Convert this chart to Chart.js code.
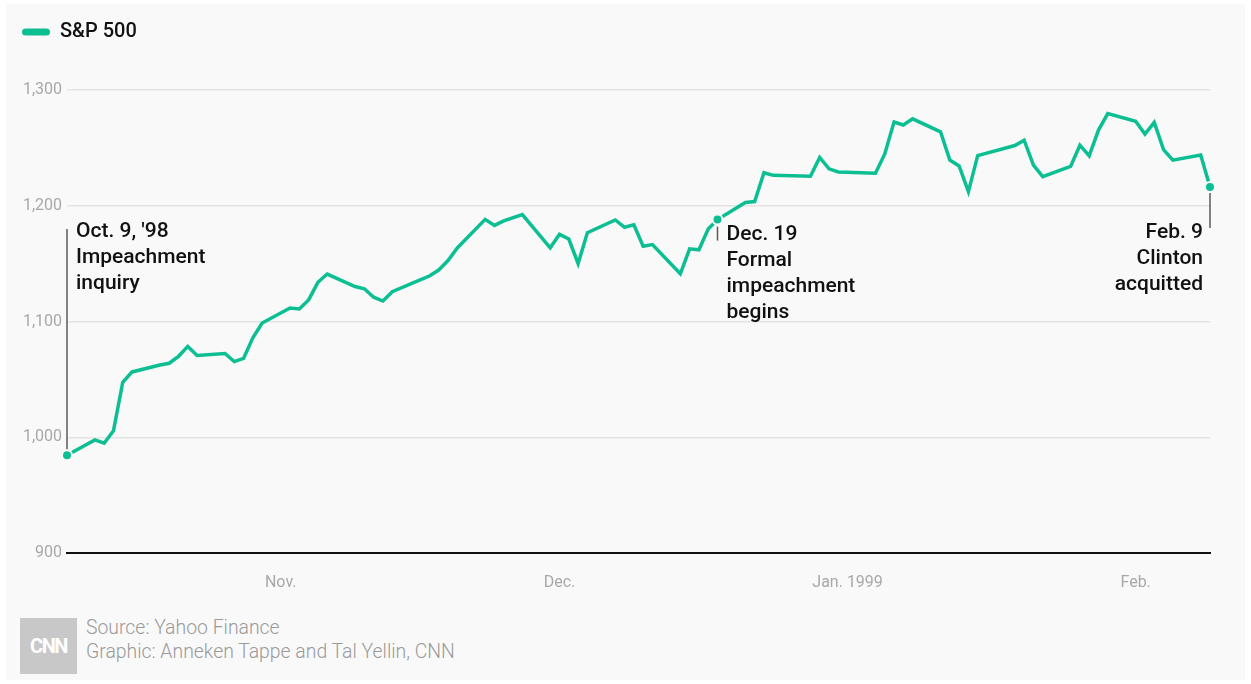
<!DOCTYPE html>
<html>
<head>
<meta charset="utf-8">
<script src="https://cdn.jsdelivr.net/npm/chart.js@4.4.1/dist/chart.umd.min.js"></script>
<style>
  body { margin: 0; background: #fff; font-family: Roboto, sans-serif; }
  #panel { position: absolute; left: 6px; top: 4px; width: 1239px; height: 676px; background: #f9f9f9; }
  #wrap { position: absolute; left: 0; top: 0; width: 1251px; height: 600px; }
  #logo { position: absolute; left: 20px; top: 618px; width: 57px; height: 56px; background: #c8c8c8;
          color: #fff; font: 700 20px Roboto, sans-serif; letter-spacing: -1.5px; text-align: center; line-height: 56px; }
  #source { position: absolute; left: 86px; top: 616px; color: #9a9a9a; font: 300 19.4px Roboto, sans-serif; line-height: 24px; }
</style>
</head>
<body>
<div id="panel"></div>
<div id="wrap"><canvas id="myChart" width="1251" height="600"></canvas></div>
<div id="logo">CNN</div>
<div id="source">Source: Yahoo Finance<br>Graphic: Anneken Tappe and Tal Yellin, CNN</div>
<script>
// S&P 500 daily closes, Oct 9 1998 - Feb 9 1999
var dates = [
  "1998-10-09","1998-10-12","1998-10-13","1998-10-14","1998-10-15","1998-10-16","1998-10-19","1998-10-20",
  "1998-10-21","1998-10-22","1998-10-23","1998-10-26","1998-10-27","1998-10-28","1998-10-29","1998-10-30",
  "1998-11-02","1998-11-03","1998-11-04","1998-11-05","1998-11-06","1998-11-09","1998-11-10","1998-11-11",
  "1998-11-12","1998-11-13","1998-11-16","1998-11-17","1998-11-18","1998-11-19","1998-11-20","1998-11-23",
  "1998-11-24","1998-11-25","1998-11-27","1998-11-30","1998-12-01","1998-12-02","1998-12-03","1998-12-04",
  "1998-12-07","1998-12-08","1998-12-09","1998-12-10","1998-12-11","1998-12-14","1998-12-15","1998-12-16",
  "1998-12-17","1998-12-18","1998-12-21","1998-12-22","1998-12-23","1998-12-24","1998-12-28","1998-12-29",
  "1998-12-30","1998-12-31","1999-01-04","1999-01-05","1999-01-06","1999-01-07","1999-01-08","1999-01-11",
  "1999-01-12","1999-01-13","1999-01-14","1999-01-15","1999-01-19","1999-01-20","1999-01-21","1999-01-22",
  "1999-01-25","1999-01-26","1999-01-27","1999-01-28","1999-01-29","1999-02-01","1999-02-02","1999-02-03",
  "1999-02-04","1999-02-05","1999-02-08","1999-02-09"
];
var closes = [
  984.39, 997.71, 994.80, 1005.53, 1047.49, 1056.42, 1062.39, 1063.93,
  1069.92, 1078.48, 1070.67, 1072.32, 1065.34, 1068.09, 1085.93, 1098.67,
  1111.60, 1110.84, 1118.67, 1133.85, 1141.01, 1130.20, 1128.26, 1120.97,
  1117.69, 1125.72, 1135.87, 1139.32, 1144.48, 1152.61, 1163.55, 1188.21,
  1182.99, 1186.87, 1192.33, 1163.63, 1175.28, 1171.25, 1150.14, 1176.74,
  1187.70, 1181.38, 1183.49, 1165.02, 1166.46, 1141.20, 1162.83, 1161.94,
  1179.98, 1188.03, 1202.84, 1203.57, 1228.54, 1226.27, 1225.49, 1241.81,
  1231.93, 1229.23, 1228.10, 1244.78, 1272.34, 1269.73, 1275.09, 1263.88,
  1239.51, 1234.40, 1212.19, 1243.26, 1252.00, 1256.62, 1235.16, 1225.19,
  1233.98, 1252.31, 1243.17, 1265.37, 1279.64, 1273.00, 1261.99, 1272.07,
  1248.49, 1239.40, 1243.77, 1216.14
];
var seriesName = "S&P 500";

var monthTicks = ["1998-11-01", "1998-12-01", "1999-01-01", "1999-02-01"];
var monthLabels = ["Nov.", "Dec.", "Jan. 1999", "Feb."];
var yTicks = [900, 1000, 1100, 1200, 1300];

var markDates = ["1998-10-09", "1998-12-18", "1999-02-09"];
var markNotes = [
  ["Oct. 9, '98", "Impeachment", "inquiry"],
  ["Dec. 19", "Formal", "impeachment", "begins"],
  ["Feb. 9", "Clinton", "acquitted"]
];

var teal = "#0cbf93";
var startDay = Date.UTC(1998, 9, 9);
function dayOf(s) {
  var p = s.split("-");
  return Math.round((Date.UTC(+p[0], +p[1] - 1, +p[2]) - startDay) / 86400000);
}
var points = dates.map(function (d, i) { return { x: dayOf(d), y: closes[i] }; });
var markIdx = markDates.map(function (d) { return dates.indexOf(d); });
var endDay = dayOf(dates[dates.length - 1]);

// legend height fixed so the plot starts where the original does
var legendSize = {
  id: "legendSize",
  beforeLayout: function (chart) {
    var lg = chart.legend;
    if (lg && !lg._sized) {
      var f = lg.fit;
      lg.fit = function () { f.call(this); this.height = 90; };
      lg._sized = true;
    }
  }
};

var notes = {
  id: "notes",
  afterDatasetsDraw: function (chart) {
    var ctx = chart.ctx, xs = chart.scales.x, ys = chart.scales.y;
    ctx.save();
    ctx.strokeStyle = "#5a5a5a";
    ctx.lineWidth = 1.5;
    ctx.fillStyle = "#111";
    ctx.font = "500 21px Roboto";
    ctx.textBaseline = "middle";
    markIdx.forEach(function (idx, n) {
      var px = xs.getPixelForValue(points[idx].x);
      var py = ys.getPixelForValue(points[idx].y);
      var lines = markNotes[n];
      var tx, ty, step = 26;
      ctx.beginPath();
      if (n === 0) {
        ctx.moveTo(px, py - 6); ctx.lineTo(px, 229);
        tx = px + 9; ty = 232; ctx.textAlign = "left";
      } else if (n === 1) {
        ctx.moveTo(px, py + 7); ctx.lineTo(px, py + 21);
        tx = px + 9; ty = 235; ctx.textAlign = "left";
      } else {
        ctx.moveTo(px, py + 6); ctx.lineTo(px, 228);
        tx = px - 7; ty = 233; ctx.textAlign = "right";
      }
      ctx.stroke();
      lines.forEach(function (t, k) { ctx.fillText(t, tx, ty + k * step); });
    });
    ctx.restore();
  }
};

var ctx = document.getElementById("myChart").getContext("2d");
var chart = new Chart(ctx, {
  type: "line",
  data: {
    datasets: [{
      label: seriesName,
      data: points,
      borderColor: teal,
      backgroundColor: teal,
      borderWidth: 3.5,
      tension: 0,
      clip: false,
      pointRadius: function (c) { return markIdx.indexOf(c.dataIndex) >= 0 ? 5 : 0; },
      pointBackgroundColor: teal,
      pointBorderColor: "#f9f9f9",
      pointBorderWidth: 2
    }]
  },
  options: {
    responsive: false,
    animation: false,
    layout: { padding: { left: 0, right: 41, top: 0, bottom: 0 } },
    plugins: {
      tooltip: { enabled: false },
      legend: {
        position: "top",
        align: "start",
        labels: {
          boxWidth: 28,
          boxHeight: 7,
          useBorderRadius: true,
          borderRadius: 3.5,
          padding: 22,
          color: "#111",
          font: { family: "Roboto", size: 20, weight: "500" },
          generateLabels: function (c) {
            var items = Chart.defaults.plugins.legend.labels.generateLabels(c);
            items.forEach(function (it) { it.lineWidth = 0; });
            return items;
          }
        }
      }
    },
    scales: {
      x: {
        type: "linear",
        min: 0,
        max: endDay,
        grid: { display: false },
        border: { display: true, color: "#111", width: 2 },
        afterBuildTicks: function (s) {
          s.ticks = monthTicks.map(function (d) { return { value: dayOf(d) }; });
        },
        afterFit: function (s) { s.height = 47; },
        ticks: {
          autoSkip: false,
          maxRotation: 0,
          padding: 12,
          color: "#a8a8a8",
          font: { family: "Roboto", size: 16 },
          callback: function (v) {
            var i = monthTicks.map(dayOf).indexOf(v);
            return i >= 0 ? monthLabels[i] : "";
          }
        }
      },
      y: {
        min: yTicks[0],
        max: yTicks[yTicks.length - 1],
        border: { display: false },
        grid: {
          drawTicks: false,
          lineWidth: 1.5,
          color: function (c) { return c.tick && c.tick.value === yTicks[0] ? "rgba(0,0,0,0)" : "#e4e4e4"; }
        },
        afterBuildTicks: function (s) {
          s.ticks = yTicks.map(function (v) { return { value: v }; });
        },
        afterFit: function (s) { s.width = 67; },
        ticks: {
          padding: 5,
          color: "#a8a8a8",
          font: { family: "Roboto", size: 16 },
          callback: function (v) { return v.toLocaleString("en-US"); }
        }
      }
    }
  },
  plugins: [legendSize, notes]
});
</script>
</body>
</html>
